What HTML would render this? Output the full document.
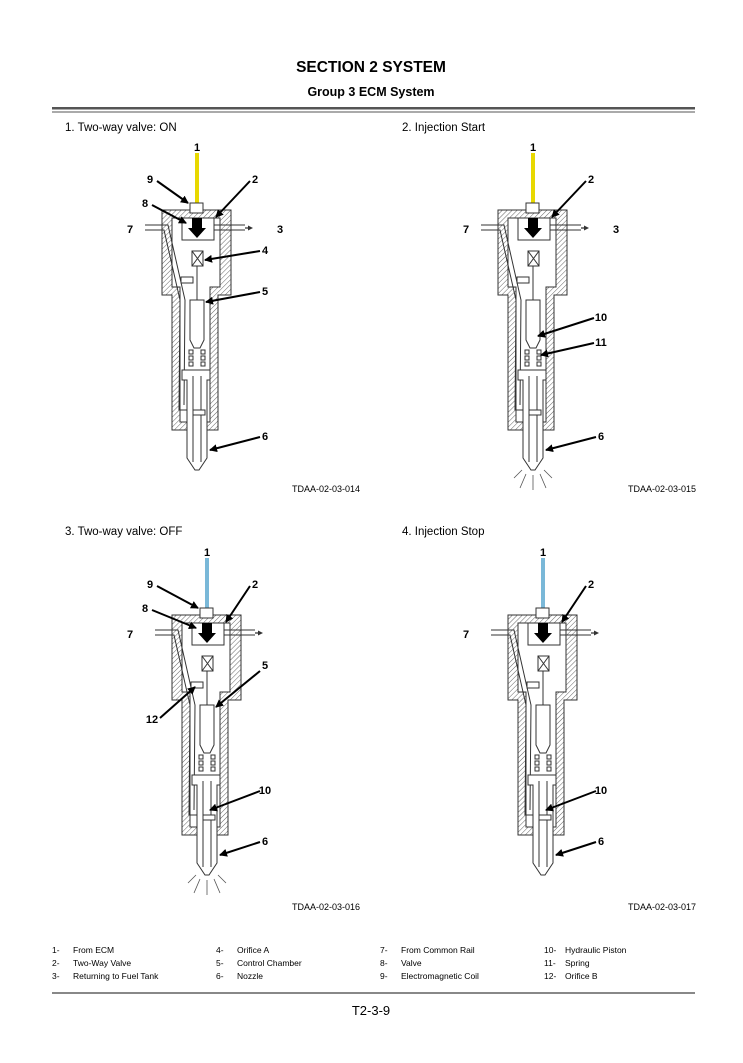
<!DOCTYPE html>
<html><head><meta charset="utf-8"><style>
html,body{margin:0;padding:0;background:#fff;}
body{width:743px;height:1063px;position:relative;overflow:hidden;font-family:"Liberation Sans",sans-serif;}
</style></head><body>
<svg width="743" height="1063" viewBox="0 0 743 1063" xmlns="http://www.w3.org/2000/svg" style="position:absolute;left:0;top:0">
<defs>
<pattern id="h" width="3.5" height="3.5" patternUnits="userSpaceOnUse" patternTransform="rotate(45)">
<rect width="3.5" height="3.5" fill="#fff"/><line x1="0" y1="0" x2="0" y2="3.5" stroke="#555" stroke-width="0.9"/>
</pattern>
<marker id="a" markerWidth="8" markerHeight="8" refX="7" refY="4" orient="auto" markerUnits="userSpaceOnUse"><path d="M0,0 L8,4 L0,8 Z" fill="#000"/></marker>
<marker id="s" markerWidth="5" markerHeight="5" refX="4" refY="2.5" orient="auto" markerUnits="userSpaceOnUse"><path d="M0,0 L5,2.5 L0,5 Z" fill="#333"/></marker>
<g id="inj" stroke="#333" stroke-width="1" fill="none">
<path d="M162,210 H231 V295 H218 V430 H172 V295 H162 Z" fill="url(#h)"/>
<path d="M172,218 H220 V287 H210 V422 H180 V287 H172 Z" fill="#fff"/>
<rect x="182" y="218" width="32" height="22" fill="#fff"/>
<path d="M145,225 H168 L185,300 L184,405 M145,230 H164 L180,300 L179,410 H192" />
<path d="M214,225 H245 M214,230 H245"/>
<line x1="245" y1="228" x2="252" y2="228" stroke="#000" marker-end="url(#s)"/>
<rect x="192" y="251" width="11" height="15" fill="#fff"/>
<path d="M192,251 L203,266 M203,251 L192,266"/>
<line x1="197" y1="266" x2="197" y2="300"/>
<rect x="181" y="277" width="12" height="6" fill="#fff"/>
<path d="M190,300 H204 V340 L200,348 H194 L190,340 Z" fill="#fff"/>
<g fill="#fff"><rect x="189" y="350" width="4" height="4"/><rect x="189" y="356" width="4" height="4"/><rect x="189" y="362" width="4" height="4"/><rect x="201" y="350" width="4" height="4"/><rect x="201" y="356" width="4" height="4"/><rect x="201" y="362" width="4" height="4"/></g>
<path d="M182,370 H210 V380 H207 V458 L199,470 H195 L187,458 V380 H182 Z" fill="#fff"/>
<line x1="193" y1="376" x2="193" y2="462"/><line x1="201" y1="376" x2="201" y2="462"/>
<rect x="193" y="410" width="12" height="5" fill="#fff"/>
</g>
</defs>

<text x="371" y="72" text-anchor="middle" font-size="15.5" font-weight="bold">SECTION 2 SYSTEM</text>
<text x="371" y="96" text-anchor="middle" font-size="12.5" font-weight="bold">Group 3 ECM System</text>
<rect x="52" y="107" width="643" height="2.5" fill="#555"/>
<rect x="52" y="111.5" width="643" height="1" fill="#555"/>

<g font-size="11.5">
<text x="65" y="131">1.  Two-way valve: ON</text>
<text x="402" y="131">2.  Injection Start</text>
<text x="65" y="535">3.  Two-way valve: OFF</text>
<text x="402" y="535">4.  Injection Stop</text>
</g>
<g font-size="9" text-anchor="end">
<text x="360" y="492">TDAA-02-03-014</text>
<text x="696" y="492">TDAA-02-03-015</text>
<text x="360" y="910">TDAA-02-03-016</text>
<text x="696" y="910">TDAA-02-03-017</text>
</g>

<g>
<use href="#inj"/>
<line x1="197" y1="153" x2="197" y2="203" stroke="#e8d800" stroke-width="4"/>
<rect x="190" y="203" width="13" height="10" fill="#fff" stroke="#333" stroke-width="1"/>
<path d="M192,218 H202 V228 H206 L197,238 L188,228 H192 Z" fill="#000"/>
<g stroke="#000" stroke-width="2" marker-end="url(#a)">
<line x1="157" y1="181" x2="188" y2="203"/><line x1="250" y1="181" x2="216" y2="217"/>
<line x1="152" y1="205" x2="186" y2="223"/><line x1="260" y1="251" x2="205" y2="260"/>
<line x1="260" y1="292" x2="206" y2="302"/><line x1="260" y1="437" x2="210" y2="450"/>
</g>
<g font-size="11" font-weight="bold" text-anchor="middle">
<text x="197" y="151">1</text><text x="150" y="183">9</text><text x="255" y="183">2</text><text x="145" y="207">8</text>
<text x="130" y="233">7</text><text x="280" y="233">3</text><text x="265" y="254">4</text><text x="265" y="295">5</text><text x="265" y="440">6</text>
</g>
</g>

<g transform="translate(336,0)">
<use href="#inj"/>
<line x1="197" y1="153" x2="197" y2="203" stroke="#e8d800" stroke-width="4"/>
<rect x="190" y="203" width="13" height="10" fill="#fff" stroke="#333" stroke-width="1"/>
<path d="M192,218 H202 V228 H206 L197,238 L188,228 H192 Z" fill="#000"/>
<g stroke="#000" stroke-width="2" marker-end="url(#a)">
<line x1="250" y1="181" x2="216" y2="217"/><line x1="258" y1="318" x2="202" y2="336"/>
<line x1="258" y1="343" x2="205" y2="355"/><line x1="260" y1="437" x2="210" y2="450"/>
</g>
<g stroke="#555" stroke-width="0.8"><path d="M197,475 V490 M190,474 L184,488 M204,474 L210,488 M186,470 L178,478 M208,470 L216,478"/></g>
<g font-size="11" font-weight="bold" text-anchor="middle">
<text x="197" y="151">1</text><text x="255" y="183">2</text>
<text x="130" y="233">7</text><text x="280" y="233">3</text><text x="265" y="321">10</text><text x="265" y="346">11</text><text x="265" y="440">6</text>
</g>
</g>

<g transform="translate(10,405)">
<use href="#inj"/>
<line x1="197" y1="153" x2="197" y2="203" stroke="#7ab8d8" stroke-width="4"/>
<rect x="190" y="203" width="13" height="10" fill="#fff" stroke="#333" stroke-width="1"/>
<path d="M192,218 H202 V228 H206 L197,238 L188,228 H192 Z" fill="#000"/>
<g stroke="#000" stroke-width="2" marker-end="url(#a)">
<line x1="147" y1="181" x2="188" y2="203"/><line x1="240" y1="181" x2="216" y2="217"/>
<line x1="142" y1="205" x2="186" y2="223"/><line x1="250" y1="266" x2="206" y2="302"/>
<line x1="150" y1="313" x2="185" y2="282"/><line x1="250" y1="386" x2="200" y2="405"/>
<line x1="250" y1="437" x2="210" y2="450"/>
</g>
<g stroke="#555" stroke-width="0.8"><path d="M197,475 V490 M190,474 L184,488 M204,474 L210,488 M186,470 L178,478 M208,470 L216,478"/></g>
<g font-size="11" font-weight="bold" text-anchor="middle">
<text x="197" y="151">1</text><text x="140" y="183">9</text><text x="245" y="183">2</text><text x="135" y="207">8</text>
<text x="120" y="233">7</text><text x="255" y="264">5</text><text x="142" y="318">12</text><text x="255" y="389">10</text><text x="255" y="440">6</text>
</g>
</g>

<g transform="translate(346,405)">
<use href="#inj"/>
<line x1="197" y1="153" x2="197" y2="203" stroke="#7ab8d8" stroke-width="4"/>
<rect x="190" y="203" width="13" height="10" fill="#fff" stroke="#333" stroke-width="1"/>
<path d="M192,218 H202 V228 H206 L197,238 L188,228 H192 Z" fill="#000"/>
<g stroke="#000" stroke-width="2" marker-end="url(#a)">
<line x1="240" y1="181" x2="216" y2="217"/><line x1="250" y1="386" x2="200" y2="405"/>
<line x1="250" y1="437" x2="210" y2="450"/>
</g>
<g font-size="11" font-weight="bold" text-anchor="middle">
<text x="197" y="151">1</text><text x="245" y="183">2</text>
<text x="120" y="233">7</text><text x="255" y="389">10</text><text x="255" y="440">6</text>
</g>
</g>

<g font-size="8.5">
<text x="52" y="953">1-</text><text x="73" y="953">From ECM</text>
<text x="52" y="966">2-</text><text x="73" y="966">Two-Way Valve</text>
<text x="52" y="979">3-</text><text x="73" y="979">Returning to Fuel Tank</text>
<text x="216" y="953">4-</text><text x="237" y="953">Orifice A</text>
<text x="216" y="966">5-</text><text x="237" y="966">Control Chamber</text>
<text x="216" y="979">6-</text><text x="237" y="979">Nozzle</text>
<text x="380" y="953">7-</text><text x="401" y="953">From Common Rail</text>
<text x="380" y="966">8-</text><text x="401" y="966">Valve</text>
<text x="380" y="979">9-</text><text x="401" y="979">Electromagnetic Coil</text>
<text x="544" y="953">10-</text><text x="565" y="953">Hydraulic Piston</text>
<text x="544" y="966">11-</text><text x="565" y="966">Spring</text>
<text x="544" y="979">12-</text><text x="565" y="979">Orifice B</text>
</g>
<rect x="52" y="992" width="643" height="2" fill="#888"/>
<text x="371" y="1015" text-anchor="middle" font-size="13">T2-3-9</text>
</svg>
</body></html>
